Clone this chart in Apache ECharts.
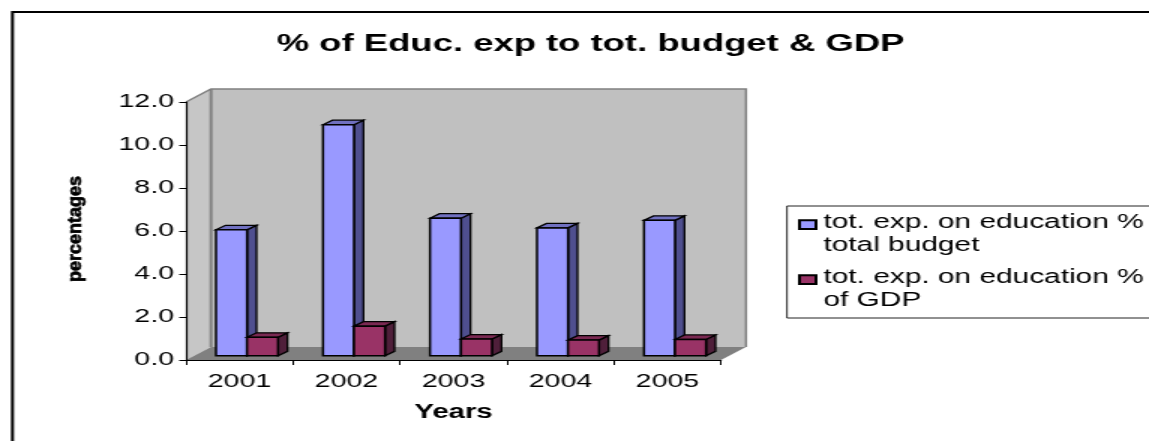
<!DOCTYPE html>
<html><head><meta charset="utf-8">
<style>html,body{margin:0;padding:0;background:#fff;overflow:hidden}
#c{position:absolute;left:0;top:0;transform-origin:0 0}</style>
<script src="https://cdn.jsdelivr.net/npm/echarts@6/dist/echarts.min.js"></script>
</head><body><div id="c"></div>
<script>
const categories = ['2001','2002','2003','2004','2005'];
const budgetShare = [5.86,10.75,6.4,5.95,6.3];
const gdpShare = [0.86,1.38,0.78,0.73,0.76];
const yTicks = {min:0,max:12,interval:2};
const titleText = '% of Educ. exp to tot. budget & GDP';
const xName = 'Years';
const yName = 'percentages';
const budgetName = 'tot. exp. on education %\ntotal budget';
const gdpName = 'tot. exp. on education %\nof GDP';

const S = 1.5;               // the reference is stretched horizontally
const W = 1149, H = 441;
const px = v => v / S;
const el = document.getElementById('c');
el.style.width = (W / S) + 'px';
el.style.height = H + 'px';
el.style.transform = 'scaleX(' + S + ')';
const chart = echarts.init(el, null, {renderer:'canvas'});

const FONT = '"Liberation Sans",Arial,sans-serif';
const wallDX = px(25), wallDY = 13;
const barW = px(31), barDX = px(9.5), barDY = 4.5, floorDX = px(7.5), floorDY = 4.2;
const legendIcon = 'path://M0 0L0 0ZM0 2.4H16V14.9H0ZM16 46L16 46Z';

function poly(points, fill, stroke, lw){
  return {type:'polygon',shape:{points},style:{fill,stroke:stroke||null,lineWidth:lw||0}};
}
function wallsItem(params, api){
  const g = params.coordSys, x0=g.x, x1=g.x+g.width, y0=g.y, y1=g.y+g.height;
  const stroke='#808080';
  return {type:'group',children:[
    poly([[x0,y0],[x0+wallDX,y0-wallDY],[x0+wallDX,y1-wallDY],[x0,y1]],'#C6C6C6'),
    poly([[x0+wallDX,y0-wallDY],[x1+wallDX,y0-wallDY],[x1+wallDX,y1-wallDY],[x0+wallDX,y1-wallDY]],'#C0C0C0'),
    poly([[x0,y1],[x0+wallDX,y1-wallDY],[x1+wallDX,y1-wallDY],[x1,y1]],'#808080'),
    {type:'polyline',shape:{points:[[x0,y0],[x0+wallDX,y0-wallDY],[x1+wallDX,y0-wallDY],[x1+wallDX,y1-wallDY]]},style:{fill:null,stroke,lineWidth:1.5}},
    {type:'line',shape:{x1:x0+wallDX,y1:y0-wallDY,x2:x0+wallDX,y2:y1-wallDY},style:{stroke,lineWidth:2}}
  ]};
}
function barItem(side, front, sideC, topC){
  return function(params, api){
    const c = api.coord([api.value(0), api.value(1)]);
    const b = api.coord([api.value(0), 0]);
    const xa = c[0] + floorDX + (side < 0 ? -barW : 0), xb = xa + barW;
    const yt = c[1] - floorDY, yb = b[1] - floorDY;
    const st = '#000';
    return {type:'group',children:[
      poly([[xb,yt],[xb+barDX,yt-barDY],[xb+barDX,yb-barDY],[xb,yb]],sideC,st,1.3),
      poly([[xa,yt],[xa+barDX,yt-barDY],[xb+barDX,yt-barDY],[xb,yt]],topC,st,1.3),
      poly([[xa,yt],[xb,yt],[xb,yb],[xa,yb]],front,st,1.5)
    ]};
  };
}
const textBlack = '#000';
chart.setOption({
  animation:false,
  backgroundColor:'#fff',
  title:{text:titleText,left:px(583),top:27,textAlign:'center',
    textStyle:{fontFamily:FONT,fontSize:24.3,fontWeight:'bold',color:textBlack}},
  grid:{left:px(186),right:(W-721)/S,top:102,bottom:H-360,containLabel:false},
  xAxis:{type:'category',data:categories,z:5,
    name:xName,nameLocation:'middle',nameGap:43,
    nameTextStyle:{fontFamily:FONT,fontSize:19.6,fontWeight:'bold',color:textBlack},
    axisLine:{lineStyle:{color:'#000',width:1.2}},
    axisTick:{show:true,length:5,alignWithLabel:false,lineStyle:{color:'#000'}},
    axisLabel:{fontFamily:FONT,fontSize:19,color:textBlack,margin:12,interval:0},
    splitLine:{show:false}},
  yAxis:{type:'value',min:yTicks.min,max:yTicks.max,interval:yTicks.interval,z:5,
    axisLine:{show:true,lineStyle:{color:'#000',width:1.2}},
    axisTick:{show:true,length:4.5,lineStyle:{color:'#000'}},
    axisLabel:{fontFamily:FONT,fontSize:19,color:textBlack,margin:8,formatter:v=>v.toFixed(1)},
    splitLine:{show:false}},
  legend:{left:px(787),top:206,orient:'vertical',align:'left',icon:legendIcon,
    backgroundColor:'#fff',borderColor:'#222',borderWidth:1,
    padding:[5.5,30,5.5,px(11)],itemGap:9,itemWidth:px(16.5),itemHeight:46,
    textStyle:{fontFamily:FONT,fontSize:19.9,color:textBlack,lineHeight:23},
    data:[budgetName,gdpName]},
  graphic:[
    {type:'rect',z:-10,shape:{x:px(12.5),y:12,width:W,height:H},style:{fill:'none',stroke:'#000',lineWidth:2}},
    {type:'text',z:10,x:px(75.5),y:229,rotation:Math.PI/2,scaleX:1.5,
      style:{text:yName,fontFamily:FONT,fontSize:12,fontWeight:'bold',fill:'#000',stroke:'#000',lineWidth:0.5,textAlign:'center',textVerticalAlign:'middle'}}
  ],
  series:[
    {type:'custom',name:'walls',silent:true,z:1,clip:false,renderItem:wallsItem,data:[[0,0]],encode:{x:0,y:1}},
    {type:'custom',name:budgetName,z:2,clip:false,renderItem:barItem(-1,'#9999FF','#4F4F8F','#7070C0'),
      itemStyle:{color:'#9999FF',borderColor:'#000',borderWidth:1.5},
      data:categories.map((c,i)=>[i,budgetShare[i]]),encode:{x:0,y:1}},
    {type:'custom',name:gdpName,z:3,clip:false,renderItem:barItem(1,'#993366','#4F1F3A','#7A2952'),
      itemStyle:{color:'#993366',borderColor:'#000',borderWidth:1.5},
      data:categories.map((c,i)=>[i,gdpShare[i]]),encode:{x:0,y:1}}
  ]
});
</script></body></html>
